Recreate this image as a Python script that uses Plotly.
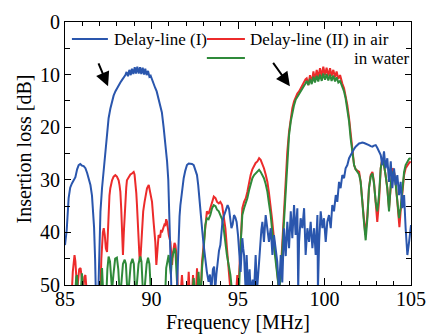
import plotly.graph_objects as go

# ---------------- data (frequency MHz, insertion loss dB) ----------------
# values of 51 mean "below the 50 dB floor" (clipped by the axis)
blue_points = [
    (85.00, 42.4), (85.10, 39.5), (85.21, 33.5), (85.30, 31.5), (85.40, 30.7), (85.50, 30.2),
    (85.60, 29.5), (85.70, 28.0), (85.79, 27.2), (85.88, 27.0), (85.98, 27.3), (86.08, 27.4),
    (86.18, 27.8), (86.28, 28.7), (86.37, 29.8), (86.47, 31.0), (86.56, 33.0), (86.62, 35.5),
    (86.68, 39.0), (86.74, 45.0), (86.78, 51), (86.93, 51), (87.00, 42.0), (87.05, 36.0),
    (87.14, 31.6), (87.24, 27.8), (87.33, 24.7), (87.43, 21.0), (87.52, 18.3), (87.62, 16.5),
    (87.72, 15.0), (87.81, 14.0), (87.91, 13.2), (88.00, 12.6), (88.10, 12.0), (88.20, 11.5),
    (88.30, 11.0), (88.40, 10.6), (88.49, 10.1), (88.56, 9.5), (88.64, 10.3), (88.72, 9.1),
    (88.80, 10.1), (88.87, 8.9), (88.95, 9.9), (89.03, 8.6), (89.10, 9.8), (89.18, 8.5),
    (89.26, 9.8), (89.34, 8.6), (89.41, 9.9), (89.49, 8.7), (89.57, 10.0), (89.64, 8.9),
    (89.72, 10.1), (89.80, 9.3), (89.88, 10.4), (89.95, 10.2), (90.03, 11.0), (90.12, 12.0),
    (90.21, 12.5), (90.30, 13.2), (90.41, 14.5), (90.50, 15.5), (90.60, 17.2), (90.70, 20.0),
    (90.80, 23.0), (90.90, 26.5), (90.97, 30.0), (91.03, 36.0), (91.10, 45.0), (91.15, 51),
    (91.47, 51), (91.55, 42.0), (91.62, 37.0), (91.67, 34.8), (91.76, 32.0), (91.86, 29.7),
    (91.95, 28.3), (92.05, 27.2), (92.15, 26.9), (92.24, 26.9), (92.34, 27.0), (92.44, 27.2),
    (92.53, 28.0), (92.63, 29.1), (92.70, 31.0), (92.76, 32.9), (92.84, 36.0), (92.92, 39.2),
    (93.00, 42.0), (93.10, 44.9), (93.20, 47.5), (93.30, 49.4), (93.38, 48.0), (93.46, 51),
    (93.55, 47.0), (93.62, 46.5), (93.68, 51), (93.75, 48.0), (93.82, 45.5), (93.90, 43.5),
    (93.98, 42.4), (94.04, 39.2), (94.10, 38.0), (94.17, 37.0), (94.27, 36.1), (94.35, 35.0),
    (94.40, 34.8), (94.48, 35.5), (94.55, 37.5), (94.62, 39.2), (94.69, 38.5), (94.77, 36.7),
    (94.85, 37.2), (94.92, 38.0), (95.00, 40.5), (95.06, 43.7), (95.15, 47.5), (95.20, 44.0),
    (95.25, 41.1), (95.30, 43.0), (95.35, 44.3), (95.40, 48.0), (95.44, 51), (95.50, 44.3),
    (95.54, 47.0), (95.58, 51), (95.67, 47.0), (95.73, 51), (95.85, 49.0), (95.93, 51),
    (96.02, 44.3), (96.10, 51), (96.22, 45.6), (96.30, 41.0), (96.35, 39.5), (96.41, 38.0),
    (96.50, 41.8), (96.60, 36.7), (96.70, 39.2), (96.79, 41.8), (96.89, 39.2), (96.99, 44.3),
    (97.08, 40.5), (97.18, 43.0), (97.27, 45.6), (97.37, 51), (97.47, 44.3), (97.56, 49.5),
    (97.66, 39.2), (97.76, 44.5), (97.85, 38.0), (97.95, 43.0), (98.05, 36.0), (98.14, 41.1),
    (98.24, 34.8), (98.33, 40.5), (98.43, 35.4), (98.48, 51), (98.53, 41.8), (98.62, 37.3),
    (98.72, 39.2), (98.82, 35.4), (98.91, 44.3), (99.01, 39.2), (99.11, 41.8), (99.20, 38.0),
    (99.30, 43.0), (99.40, 39.2), (99.49, 44.3), (99.59, 36.7), (99.62, 51), (99.69, 41.8),
    (99.78, 36.0), (99.88, 39.2), (99.97, 37.3), (100.07, 41.8), (100.16, 38.0), (100.26, 36.7),
    (100.36, 39.2), (100.45, 34.8), (100.55, 36.0), (100.65, 32.9), (100.74, 34.2), (100.84, 30.4),
    (100.93, 31.6), (101.03, 29.1), (101.13, 29.7), (101.22, 27.8), (101.32, 27.2), (101.42, 25.9),
    (101.51, 25.3), (101.61, 24.6), (101.70, 24.2), (101.80, 23.7), (101.90, 23.3), (102.00, 23.1),
    (102.10, 23.0), (102.19, 22.9), (102.29, 23.0), (102.38, 23.1), (102.48, 23.3), (102.57, 23.4),
    (102.67, 23.6), (102.77, 23.7), (102.86, 23.5), (102.96, 23.4), (103.05, 23.9), (103.10, 24.3),
    (103.17, 24.8), (103.25, 25.3), (103.34, 27.2), (103.44, 24.6), (103.53, 27.8), (103.63, 25.9),
    (103.73, 30.4), (103.83, 26.5), (103.92, 31.6), (104.02, 27.8), (104.11, 31.0), (104.21, 29.1),
    (104.31, 32.9), (104.40, 30.4), (104.50, 35.4), (104.60, 32.9), (104.69, 39.2), (104.79, 44.3),
    (104.89, 41.8), (104.98, 38.6), (105.00, 38.6),
]

red_points = [
    (85.00, 51), (85.40, 51), (85.45, 47.5), (85.50, 45.0), (85.55, 44.3), (85.60, 45.5),
    (85.65, 48.0), (85.70, 51), (85.75, 49.4), (85.82, 47.0), (85.90, 46.8), (85.98, 48.5),
    (86.05, 51), (86.12, 48.5), (86.18, 48.1), (86.25, 51), (87.05, 51), (87.10, 45.0),
    (87.14, 41.8), (87.19, 40.0), (87.24, 39.2), (87.30, 40.5), (87.36, 43.0), (87.43, 43.7),
    (87.48, 40.0), (87.52, 36.0), (87.57, 33.0), (87.62, 31.6), (87.67, 30.5), (87.72, 30.1),
    (87.81, 29.4), (87.91, 29.1), (88.00, 29.4), (88.10, 30.1), (88.15, 31.0), (88.20, 32.3),
    (88.25, 35.5), (88.30, 39.9), (88.35, 44.3), (88.40, 40.0), (88.45, 36.0), (88.49, 33.5),
    (88.54, 31.5), (88.58, 30.1), (88.68, 29.4), (88.78, 29.0), (88.87, 28.8), (88.97, 28.5),
    (89.02, 29.0), (89.07, 30.4), (89.12, 32.5), (89.16, 34.8), (89.21, 38.5), (89.26, 42.4),
    (89.31, 45.0), (89.35, 45.6), (89.40, 42.0), (89.45, 38.6), (89.52, 36.0), (89.60, 34.2),
    (89.67, 32.8), (89.74, 31.6), (89.84, 31.0), (89.93, 32.3), (90.03, 34.2), (90.12, 38.0),
    (90.22, 41.8), (90.28, 46.2), (90.35, 43.0), (90.41, 40.5), (90.50, 41.0), (90.55, 39.5),
    (90.60, 40.0), (90.70, 39.0), (90.75, 38.5), (90.80, 38.6), (90.85, 37.5), (90.90, 38.0),
    (90.95, 39.5), (91.00, 40.5), (91.09, 41.8), (91.14, 44.5), (91.19, 46.2), (91.24, 44.0),
    (91.28, 43.0), (91.33, 42.0), (91.38, 42.4), (91.43, 44.0), (91.47, 44.9), (91.52, 51),
    (91.70, 51), (91.76, 48.1), (91.82, 51), (92.10, 51), (92.15, 47.5), (92.20, 51),
    (92.35, 51), (92.40, 48.1), (92.45, 51), (92.58, 51), (92.63, 46.8), (92.68, 51),
    (92.85, 51), (92.92, 45.6), (93.02, 41.8), (93.11, 38.0), (93.20, 36.0), (93.30, 36.5),
    (93.40, 35.4), (93.50, 34.2), (93.60, 33.2), (93.70, 33.5), (93.79, 34.2), (93.89, 34.5),
    (93.98, 34.2), (94.08, 34.8), (94.17, 36.7), (94.27, 39.2), (94.36, 43.0), (94.46, 46.8),
    (94.56, 51), (94.90, 51), (94.96, 48.1), (95.02, 51), (95.10, 46.0), (95.16, 40.5),
    (95.25, 35.4), (95.35, 34.2), (95.45, 33.5), (95.54, 32.3), (95.64, 30.5), (95.73, 29.1),
    (95.83, 28.0), (95.93, 27.2), (96.02, 26.8), (96.12, 26.5), (96.22, 25.9), (96.31, 26.2),
    (96.41, 27.0), (96.50, 27.8), (96.60, 29.0), (96.70, 30.4), (96.79, 32.5), (96.89, 34.8),
    (96.97, 37.5), (97.04, 39.9), (97.11, 42.0), (97.18, 44.3), (97.27, 47.5), (97.37, 51),
    (97.47, 47.5), (97.56, 41.8), (97.66, 36.7), (97.76, 30.4), (97.85, 24.7), (97.95, 20.9),
    (98.05, 18.3), (98.14, 16.4), (98.24, 15.1), (98.33, 14.2), (98.43, 13.6), (98.53, 13.2),
    (98.62, 12.6), (98.72, 12.0), (98.82, 11.3), (98.90, 10.9), (98.97, 10.7), (99.07, 12.0),
    (99.16, 10.1), (99.26, 11.5), (99.36, 9.4), (99.45, 11.0), (99.55, 9.1), (99.64, 10.6),
    (99.74, 8.8), (99.84, 10.3), (99.93, 8.5), (100.03, 10.1), (100.12, 8.7), (100.22, 10.2),
    (100.32, 8.8), (100.41, 10.3), (100.51, 9.1), (100.61, 10.5), (100.70, 9.4), (100.80, 10.8),
    (100.90, 10.1), (100.97, 11.2), (101.03, 11.7), (101.13, 12.6), (101.22, 13.9), (101.32, 15.8),
    (101.42, 18.3), (101.51, 21.5), (101.61, 24.7), (101.71, 27.2), (101.80, 28.0), (101.90, 28.2),
    (102.00, 28.5), (102.09, 30.4), (102.19, 34.0), (102.28, 36.7), (102.36, 40.5), (102.48, 36.7),
    (102.57, 31.6), (102.67, 29.1), (102.77, 28.5), (102.86, 30.4), (102.96, 34.8), (103.05, 38.0),
    (103.15, 34.2), (103.25, 27.8), (103.34, 25.9), (103.44, 27.2), (103.53, 29.1), (103.63, 31.6),
    (103.73, 35.4), (103.83, 30.4), (103.92, 27.8), (104.02, 28.5), (104.11, 30.4), (104.21, 34.2),
    (104.33, 39.0), (104.40, 36.0), (104.50, 31.6), (104.60, 29.1), (104.69, 27.8), (104.79, 27.2),
    (104.89, 26.8), (104.98, 26.5),
]

green_points = [
    (85.00, 51), (85.60, 51), (85.65, 48.5), (85.69, 48.1), (85.74, 51), (85.92, 51),
    (85.98, 47.8), (86.04, 51), (87.08, 51), (87.14, 46.8), (87.20, 51), (87.40, 51),
    (87.45, 47.0), (87.52, 44.6), (87.60, 45.5), (87.68, 49.0), (87.72, 51), (87.80, 48.0),
    (87.90, 45.0), (88.00, 44.8), (88.08, 47.0), (88.15, 51), (88.25, 50.0), (88.35, 46.0),
    (88.45, 45.2), (88.52, 46.0), (88.60, 51), (88.70, 50.0), (88.80, 46.0), (88.90, 45.0),
    (88.98, 46.0), (89.05, 51), (89.15, 50.0), (89.25, 46.0), (89.35, 44.6), (89.42, 45.5),
    (89.50, 51), (89.62, 50.0), (89.72, 46.0), (89.80, 44.8), (89.88, 46.0), (89.96, 51),
    (90.80, 51), (90.85, 46.8), (90.92, 45.0), (90.99, 44.3), (91.05, 46.0), (91.12, 48.0),
    (91.18, 45.0), (91.24, 44.0), (91.28, 43.7), (91.33, 43.0), (91.38, 43.5), (91.43, 46.0),
    (91.50, 51), (92.38, 51), (92.44, 48.7), (92.50, 51), (92.66, 51), (92.72, 47.5),
    (92.78, 51), (92.86, 51), (92.92, 46.8), (93.02, 43.0), (93.11, 38.6), (93.20, 37.3),
    (93.30, 37.5), (93.40, 36.7), (93.50, 35.4), (93.60, 34.8), (93.70, 35.0), (93.79, 35.7),
    (93.89, 36.0), (93.98, 36.7), (94.08, 37.5), (94.17, 39.2), (94.27, 42.4), (94.36, 44.3),
    (94.46, 46.2), (94.56, 48.1), (94.65, 51), (95.06, 51), (95.16, 41.8), (95.25, 36.7),
    (95.35, 35.4), (95.45, 34.5), (95.54, 33.5), (95.64, 32.0), (95.73, 30.7), (95.83, 29.7),
    (95.93, 29.1), (96.02, 28.8), (96.12, 28.5), (96.22, 28.1), (96.31, 28.5), (96.41, 29.0),
    (96.50, 29.7), (96.60, 30.8), (96.70, 32.3), (96.79, 34.5), (96.89, 36.7), (96.97, 39.5),
    (97.04, 41.8), (97.11, 44.0), (97.18, 46.2), (97.27, 48.7), (97.37, 51), (97.47, 48.5),
    (97.56, 43.5), (97.66, 37.3), (97.76, 31.0), (97.85, 25.3), (97.95, 21.5), (98.05, 18.9),
    (98.14, 17.0), (98.24, 15.8), (98.33, 14.8), (98.43, 14.2), (98.53, 13.7), (98.62, 13.2),
    (98.72, 12.6), (98.82, 12.1), (98.90, 11.7), (98.97, 11.2), (99.07, 12.0), (99.16, 10.8),
    (99.26, 11.8), (99.36, 10.4), (99.45, 11.5), (99.55, 10.2), (99.64, 11.3), (99.74, 10.0),
    (99.84, 11.2), (99.93, 9.8), (100.03, 11.0), (100.12, 9.9), (100.22, 11.1), (100.32, 10.0),
    (100.41, 11.2), (100.51, 10.2), (100.61, 11.3), (100.70, 10.5), (100.80, 11.5), (100.90, 11.2),
    (100.97, 11.8), (101.03, 12.3), (101.13, 13.2), (101.22, 14.5), (101.32, 16.4), (101.42, 18.9),
    (101.51, 22.1), (101.61, 25.0), (101.71, 27.2), (101.80, 28.0), (101.90, 28.5), (102.00, 29.0),
    (102.09, 30.4), (102.19, 35.0), (102.28, 38.0), (102.38, 41.5), (102.48, 37.3), (102.57, 31.6),
    (102.67, 29.4), (102.77, 28.8), (102.86, 30.7), (102.96, 34.2), (103.05, 36.0), (103.15, 32.9),
    (103.25, 27.8), (103.34, 26.2), (103.44, 27.2), (103.53, 29.1), (103.63, 31.6), (103.73, 36.0),
    (103.83, 30.7), (103.92, 28.5), (104.02, 28.8), (104.11, 30.7), (104.21, 34.2), (104.31, 37.3),
    (104.40, 35.4), (104.50, 31.0), (104.60, 28.5), (104.69, 27.2), (104.79, 26.5), (104.89, 26.0),
    (104.98, 25.9),
]

series_names = ["Delay-line (II) in air", "Delay-line (II) in water", "Delay-line (I)"]
series_colors = ["#ec2b2b", "#2f8a3a", "#2a56ad"]

x_tick_vals = [85, 90, 95, 100, 105]
y_tick_vals = [0, 10, 20, 30, 40, 50]

FONT = "Liberation Serif"

fig = go.Figure()
for pts, name, col in zip([red_points, green_points, blue_points], series_names, series_colors):
    fig.add_trace(go.Scatter(
        x=[p[0] for p in pts], y=[p[1] for p in pts], mode="lines", name=name,
        line=dict(color=col, width=2), showlegend=False,
    ))

# legend drawn manually (paper coordinates)
legend_items = [
    (0.020, 0.124, 0.935, series_colors[2], "Delay-line (I)", 0.136),
    (0.410, 0.520, 0.935, series_colors[0], "Delay-line (II) in air", 0.529),
    (0.410, 0.520, 0.863, series_colors[1], "in water", 0.830),
]
shapes = []
annotations = []
for x0, x1, yy, col, txt, tx in legend_items:
    shapes.append(dict(type="line", xref="paper", yref="paper", x0=x0, x1=x1, y0=yy, y1=yy,
                       line=dict(color=col, width=2)))
    annotations.append(dict(xref="paper", yref="paper", x=tx, y=yy, text=txt, showarrow=False,
                            xanchor="left", yanchor="middle", font=dict(family=FONT, size=17, color="black")))

# arrows
for (tx, ty), (hx, hy) in [((86.9, 7.6), (87.49, 12.2)), ((96.97, 7.5), (98.0, 12.2))]:
    annotations.append(dict(x=hx, y=hy, ax=tx, ay=ty, xref="x", yref="y", axref="x", ayref="y",
                            showarrow=True, arrowhead=2, arrowsize=1.4, arrowwidth=2,
                            arrowcolor="black", text=""))

# axis titles
annotations.append(dict(xref="paper", yref="paper", x=0, y=0.5, xshift=-42, yshift=4,
                        text="Insertion loss [dB]", textangle=-90, showarrow=False,
                        xanchor="center", yanchor="middle", font=dict(family=FONT, size=20, color="black")))
annotations.append(dict(xref="paper", yref="paper", x=0.5, y=0, yshift=-37,
                        text="Frequency [MHz]", showarrow=False,
                        xanchor="center", yanchor="middle", font=dict(family=FONT, size=20, color="black")))

fig.update_layout(
    template="none",
    width=427, height=336,
    margin=dict(l=65, r=16, t=22, b=51, autoexpand=False),
    paper_bgcolor="white", plot_bgcolor="white",
    font=dict(family=FONT, size=20, color="black"),
    shapes=shapes, annotations=annotations,
)
fig.update_xaxes(
    range=[85, 105], tickvals=x_tick_vals, ticks="inside", ticklen=7, tickwidth=1,
    tickcolor="black", showline=True, linecolor="black", linewidth=1, mirror="ticks",
    showgrid=False, zeroline=False, automargin=False, ticklabelstandoff=-4,
    minor=dict(dtick=1, ticks="inside", ticklen=4, tickcolor="black", showgrid=False),
    tickfont=dict(family=FONT, size=20, color="black"),
)
fig.update_yaxes(
    range=[50, 0], tickvals=y_tick_vals, ticks="inside", ticklen=6, tickwidth=1,
    tickcolor="black", showline=True, linecolor="black", linewidth=1, mirror="ticks",
    showgrid=False, zeroline=False, automargin=False,
    minor=dict(dtick=5, ticks="inside", ticklen=5, tickcolor="black", showgrid=False),
    tickfont=dict(family=FONT, size=20, color="black"),
)

fig.write_html("out.html", config={"displayModeBar": False},
               post_script="document.body.style.margin='0px';document.body.style.overflow='hidden';")
